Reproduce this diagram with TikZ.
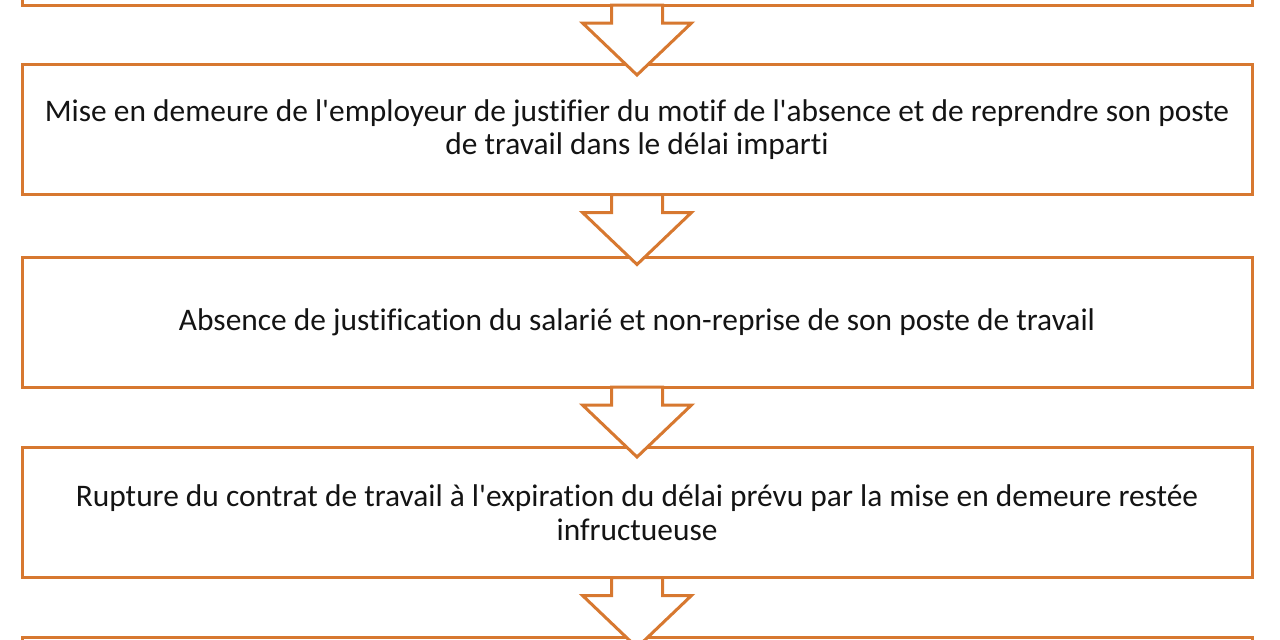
\documentclass[tikz,border=0pt]{standalone}
\usepackage{fontspec}
\setmainfont{Carlito}[Ligatures={TeXOff,NoCommon}]
\definecolor{boxorange}{RGB}{215,120,48}
\definecolor{txt}{RGB}{20,20,20}
\tikzset{
  flowbox/.style={draw=boxorange, line width=3pt, fill=white, rectangle,
    minimum width=1230pt, minimum height=130pt, inner sep=0pt, outer sep=0pt,
    align=center, text=txt, font=\fontsize{31.4}{33.5}\selectfont},
  blockarrow/.style={draw=boxorange, line width=3pt, fill=white, line join=miter},
  pics/flowarrow/.style={code={
    \draw[blockarrow] (-25.5,0) -- (-25.5,18) -- (-54.5,18) -- (0,70) -- (54.5,18) -- (25.5,18) -- (25.5,0) -- cycle;
  }}
}
\begin{document}
\begin{tikzpicture}[x=1pt,y=-1pt]
\useasboundingbox (0,0) rectangle (1280,640);
\clip (0,0) rectangle (1280,640);
\fill[white] (0,0) rectangle (1280,640);
\node[flowbox] (b1) at (637,-60) {};
\node[flowbox] (b2) at (637,129.5) {Mise en demeure de l'employeur de justifier du motif de l'absence et de reprendre son poste\\de travail dans le délai imparti};
\node[flowbox] (b3) at (637,322) {Absence de justification du salarié et non-reprise de son poste de travail};
\node[flowbox] (b4) at (637,512.5) {Rupture du contrat de travail à l'expiration du délai prévu par la mise en demeure restée\\infructueuse};
\node[flowbox] (b5) at (637,702) {};
\pic at (b1.south) {flowarrow};
\pic at (b2.south) {flowarrow};
\pic at (b3.south) {flowarrow};
\pic at (b4.south) {flowarrow};
\end{tikzpicture}
\end{document}
